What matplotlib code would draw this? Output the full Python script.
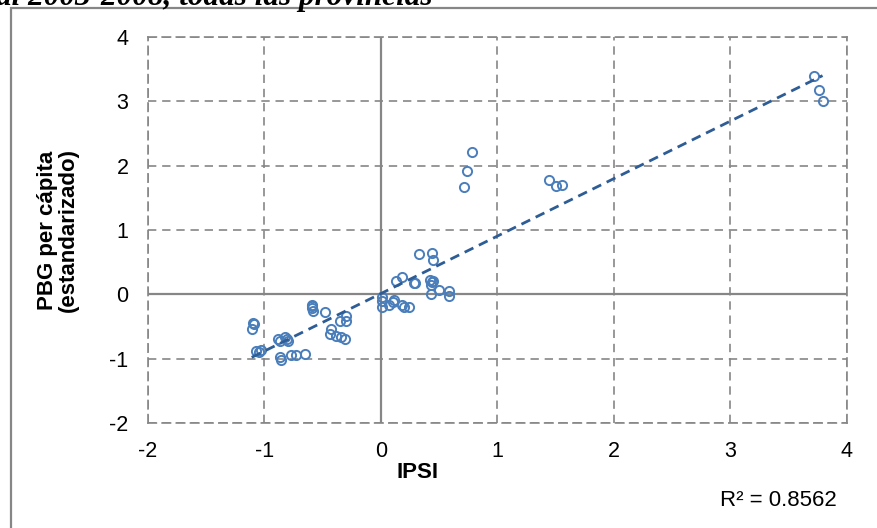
import numpy as np
import matplotlib.pyplot as plt
from matplotlib.patches import Rectangle

# IPSI vs PBG per capita, both standardized
ipsi = [0.33, 0.44, 0.45, 0.13, 0.18, 0.29, 0.28, 0.42, 0.45, 0.43, 0.44,
        0.50, 0.58, 0.58, 0.43, 0.01, 0.01, 0.01, 0.07, 0.11, 0.10, 0.18,
        0.20, 0.24, -0.59, -0.59, -0.59, -0.58, -0.48, -0.30, -0.35, -0.30,
        -0.43, -0.44, -0.39, -0.34, -0.31, -1.10, -1.09, -1.11, -1.07, -1.03,
        -1.05, -0.88, -0.87, -0.82, -0.80, -0.81, -0.87, -0.86, -0.77, -0.73,
        -0.65, 0.78, 0.74, 0.71, 1.44, 1.50, 1.55, 3.72, 3.76, 3.79]
pbg = [0.62, 0.65, 0.53, 0.21, 0.27, 0.18, 0.17, 0.22, 0.21, 0.14, 0.19,
       0.06, 0.05, -0.02, 0.00, -0.04, -0.11, -0.19, -0.16, -0.09, -0.12, -0.16,
       -0.20, -0.19, -0.16, -0.18, -0.22, -0.26, -0.28, -0.34, -0.42, -0.42,
       -0.54, -0.61, -0.65, -0.66, -0.70, -0.44, -0.46, -0.54, -0.88, -0.87,
       -0.89, -0.70, -0.72, -0.66, -0.72, -0.69, -0.98, -1.02, -0.94, -0.94,
       -0.92, 2.21, 1.92, 1.67, 1.77, 1.68, 1.70, 3.39, 3.17, 3.00]
r2_label = "R² = 0.8562"

x_ticks = [-2, -1, 0, 1, 2, 3, 4]
y_ticks = [-2, -1, 0, 1, 2, 3, 4]

grid_col = '#868686'
marker_col = '#4a7ebb'
trend_col = '#2e5d96'

plt.rcParams['font.family'] = ['Liberation Sans', 'DejaVu Sans']
plt.rcParams['axes.unicode_minus'] = False

fig = plt.figure(figsize=(8.78, 5.28), dpi=100)
ax = fig.add_axes([148 / 878, 1 - 423 / 528, 699 / 878, 386 / 528])

x = np.array(ipsi)
y = np.array(pbg)
ax.plot(x, y, 'o', ms=6.6, mfc='none', mec=marker_col, mew=1.4, zorder=4)

# linear trend over the data range
slope, icpt = np.polyfit(x, y, 1)
xs = np.array([x.min(), x.max()])
ax.plot(xs, slope * xs + icpt, color=trend_col, lw=2.0,
        dashes=(3.5, 2.2), zorder=5)

ax.set_xlim(-2, 4)
ax.set_ylim(-2, 4)
ax.set_xticks(x_ticks)
ax.set_yticks(y_ticks)
ax.tick_params(length=0, labelsize=15.5)
ax.tick_params(axis='x', pad=13)
ax.tick_params(axis='y', pad=14)

ax.grid(True, color=grid_col, ls=(0, (5, 3.5)), lw=1.2)
for s in ax.spines.values():
    s.set_color(grid_col)
    s.set_linestyle((0, (5, 3.5)))
    s.set_linewidth(1.2)
ax.axhline(0, color=grid_col, lw=1.6, zorder=3)
ax.axvline(0, color=grid_col, lw=1.6, zorder=3)

fig.text(418 / 878, 1 - 472 / 528, 'IPSI', ha='center', va='center',
         fontsize=16, fontweight='bold')
fig.text(58 / 878, 1 - 230 / 528, 'PBG per cápita\n(estandarizado)',
         rotation=90, ha='center', va='center', fontsize=16,
         fontweight='bold', linespacing=1.0)

fig.text(778 / 878, 1 - 500 / 528, r2_label, ha='center', va='center',
         fontsize=16)

fig.text(-0.004, 1 - 5 / 528, 'al 2003-2008, todas las provincias',
         family='Liberation Serif', style='italic', fontweight='bold',
         fontsize=22.5, ha='left', va='baseline')

fig.patches.append(Rectangle((11 / 878, -0.1), 1.2, 1.1 - 8 / 528,
                             transform=fig.transFigure, fill=False,
                             ec=grid_col, lw=1.6))

fig.savefig('out.png', dpi=100)
